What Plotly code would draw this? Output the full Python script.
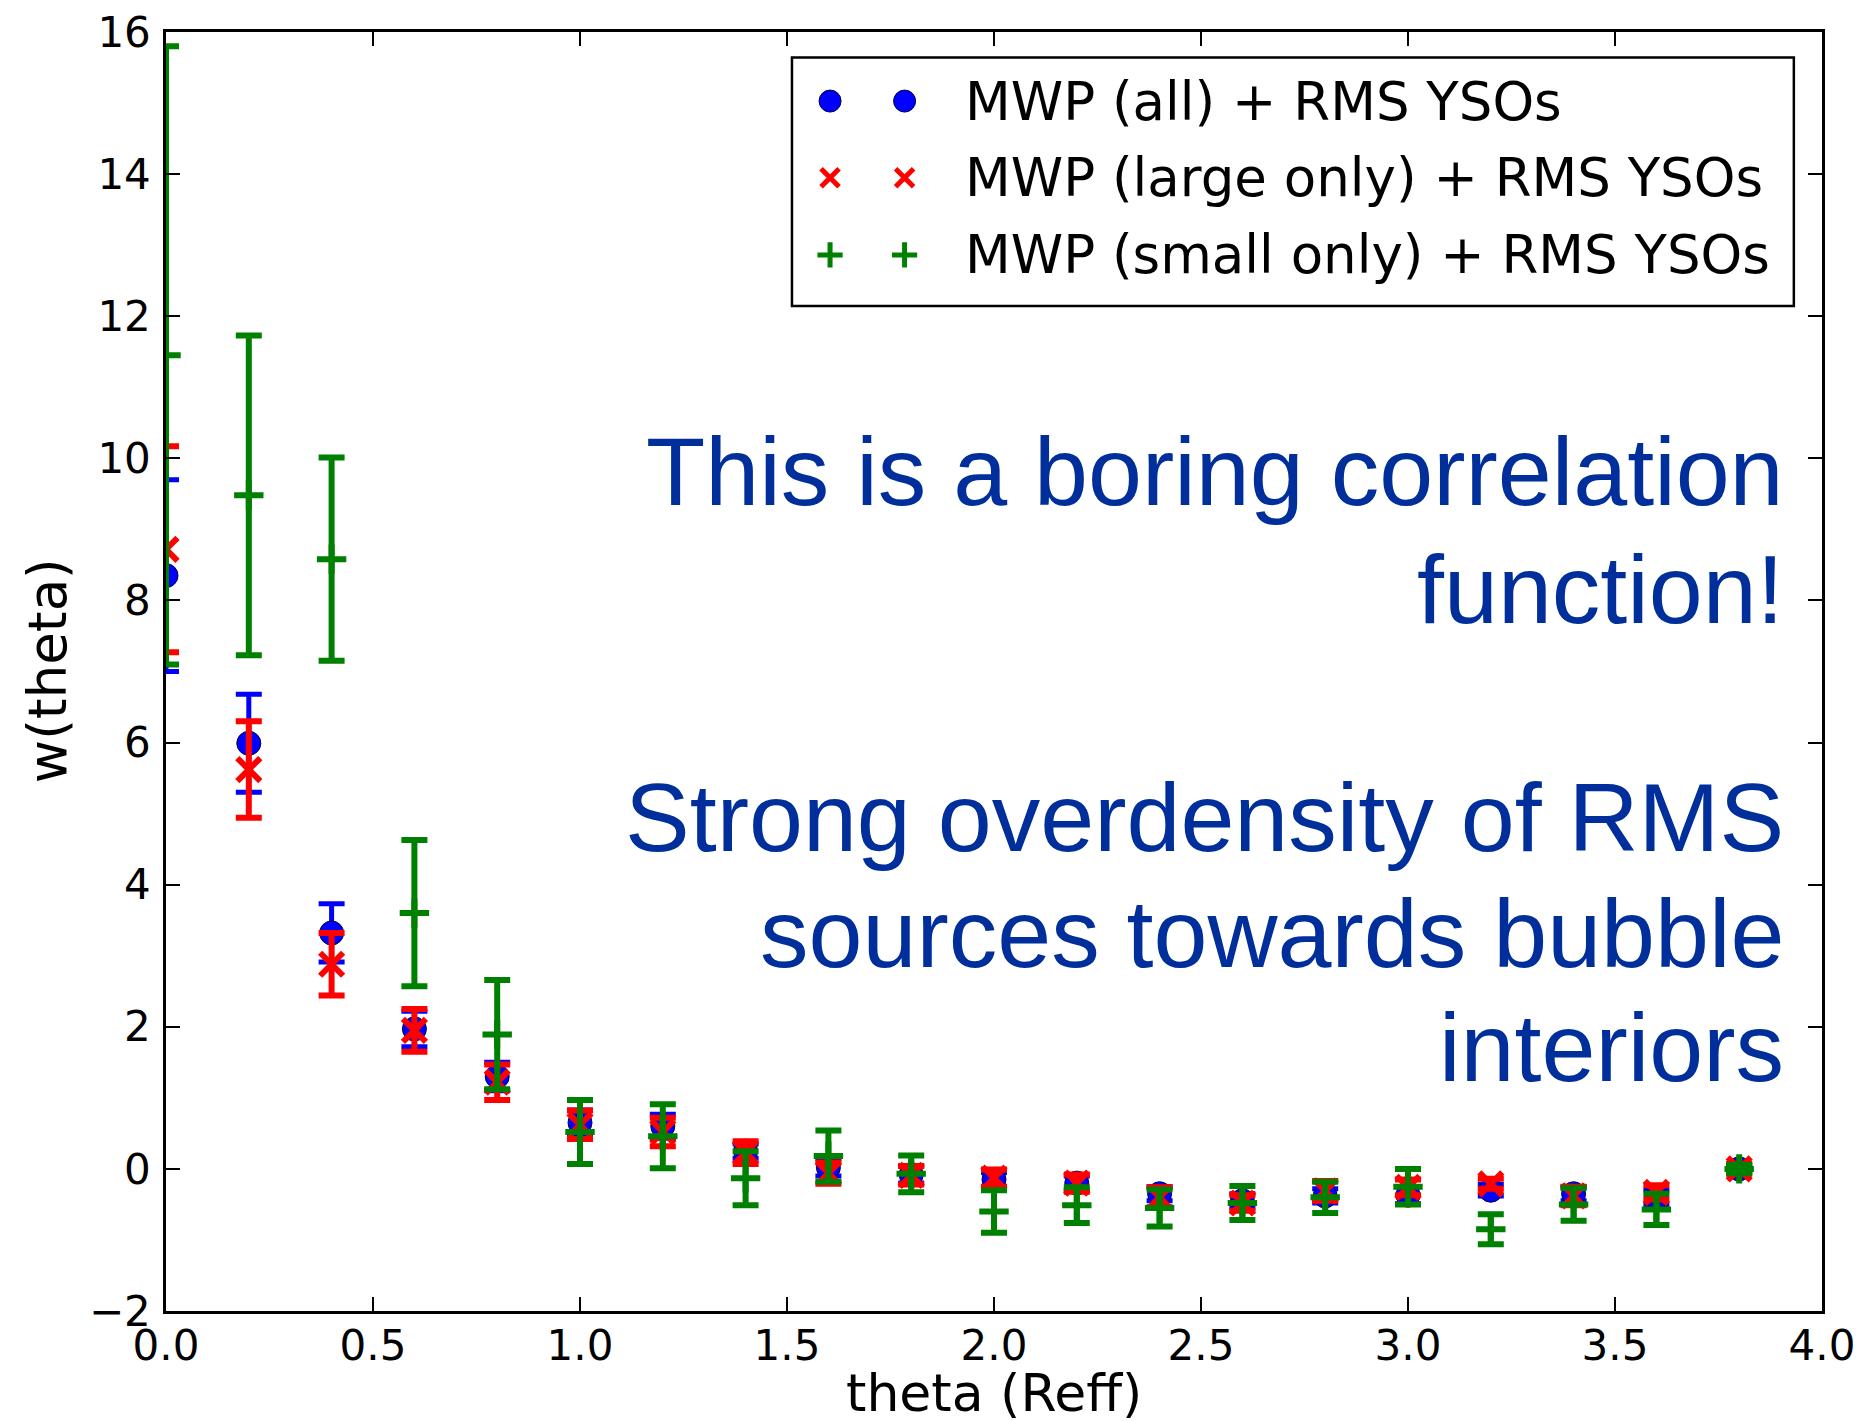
import plotly.graph_objects as go

# Angular separation bins (in units of effective bubble radius)
theta = [0.0, 0.2, 0.4, 0.6, 0.8, 1.0, 1.2, 1.4, 1.6, 1.8,
         2.0, 2.2, 2.4, 2.6, 2.8, 3.0, 3.2, 3.4, 3.6, 3.8]

# MWP (all) + RMS YSOs
w_all = [8.35, 5.99, 3.32, 1.97, 1.30, 0.65, 0.60, 0.25, 0.02, -0.08,
         -0.15, -0.20, -0.35, -0.45, -0.38, -0.37, -0.30, -0.35, -0.40, 0.0]
err_all = [1.35, 0.69, 0.41, 0.25, 0.20, 0.18, 0.17, 0.10, 0.12, 0.12,
           0.10, 0.10, 0.10, 0.10, 0.10, 0.12, 0.08, 0.10, 0.10, 0.05]

# MWP (large only) + RMS YSOs
w_large = [8.72, 5.62, 2.88, 1.95, 1.22, 0.62, 0.52, 0.23, -0.06, -0.09,
           -0.13, -0.20, -0.40, -0.48, -0.31, -0.26, -0.21, -0.38, -0.33, 0.0]
err_large = [1.45, 0.68, 0.44, 0.30, 0.25, 0.20, 0.20, 0.16, 0.15, 0.13,
             0.12, 0.12, 0.14, 0.11, 0.14, 0.11, 0.07, 0.13, 0.10, 0.07]

# MWP (small only) + RMS YSOs
w_small = [11.45, 9.48, 8.58, 3.60, 1.89, 0.52, 0.46, -0.13, 0.18, -0.07,
           -0.60, -0.51, -0.55, -0.48, -0.40, -0.25, -0.85, -0.50, -0.57, 0.0]
err_small = [4.35, 2.25, 1.43, 1.03, 0.77, 0.45, 0.45, 0.38, 0.36, 0.26,
             0.30, 0.25, 0.26, 0.24, 0.22, 0.25, 0.21, 0.23, 0.22, 0.06]

legend_labels = ["MWP (all) + RMS YSOs",
                 "MWP (large only) + RMS YSOs",
                 "MWP (small only) + RMS YSOs"]

x_ticks = [0.0, 0.5, 1.0, 1.5, 2.0, 2.5, 3.0, 3.5, 4.0]
y_ticks = [-2, 0, 2, 4, 6, 8, 10, 12, 14, 16]

x_title = "theta (Reff)"
y_title = "w(theta)"

note_lines = ["This is a boring correlation", "function!",
              "Strong overdensity of RMS", "sources towards bubble", "interiors"]

BLUE, RED, GREEN = "#0000ff", "#ff0000", "#008000"
NOTE_COLOR = "#002e9b"
MPL_FONT = "DejaVu Sans"

series = [
    dict(y=w_all, e=err_all, color=BLUE, symbol="circle", size=24, lw=1, lc="#000040", eth=5),
    dict(y=w_large, e=err_large, color=RED, symbol="x-thin", size=23, lw=6, lc=RED, eth=6),
    dict(y=w_small, e=err_small, color=GREEN, symbol="cross-thin", size=21, lw=6, lc=GREEN, eth=6),
]

fig = go.Figure()
for s, name in zip(series, legend_labels):
    fig.add_trace(go.Scatter(
        x=theta, y=s["y"], mode="markers", name=name, showlegend=False,
        marker=dict(symbol=s["symbol"], size=s["size"], color=s["color"],
                    line=dict(width=s["lw"], color=s["lc"])),
        error_y=dict(type="data", array=s["e"], visible=True,
                     color=s["color"], thickness=s["eth"], width=13),
        cliponaxis=True,
    ))

# Legend glyphs: two sample markers per entry, drawn on an overlay axis
leg_x = [0.401, 0.446]
leg_y = [0.946, 0.886, 0.8257]
leg_sizes = [22, 18, 18]
for s, ly, ms in zip(series, leg_y, leg_sizes):
    fig.add_trace(go.Scatter(
        x=leg_x, y=[ly, ly], mode="markers", showlegend=False, hoverinfo="skip",
        xaxis="x2", yaxis="y2",
        marker=dict(symbol=s["symbol"], size=ms, color=s["color"],
                    line=dict(width=s["lw"] - 1 if s["lw"] > 1 else 1, color=s["lc"])),
    ))

annotations = []
for label, ly in zip(legend_labels, leg_y):
    annotations.append(dict(
        x=0.4813, y=ly, xref="paper", yref="paper", xanchor="left", yanchor="middle",
        text=label, showarrow=False, font=dict(family=MPL_FONT, size=53, color="black")))

note_y = [0.656, 0.5645, 0.3855, 0.2955, 0.2064]
for line, ny in zip(note_lines, note_y):
    annotations.append(dict(
        x=0.978, y=ny, xref="paper", yref="paper", xanchor="right", yanchor="middle",
        text=line, showarrow=False,
        font=dict(family="Liberation Sans, Arial, sans-serif", size=97, color=NOTE_COLOR)))

# Axis titles
annotations.append(dict(
    x=0.5, y=-0.0645, xref="paper", yref="paper", xanchor="center", yanchor="middle",
    text=x_title, showarrow=False, font=dict(family=MPL_FONT, size=52, color="black")))
annotations.append(dict(
    x=-0.0719, y=0.501, xref="paper", yref="paper", xanchor="center", yanchor="middle",
    text=y_title, textangle=-90, showarrow=False,
    font=dict(family=MPL_FONT, size=53, color="black")))

axis_common = dict(
    showline=True, linecolor="black", linewidth=2.5, mirror="ticks",
    ticks="inside", ticklen=14, tickwidth=1.5, tickcolor="black",
    showgrid=False, zeroline=False, automargin=False,
    tickfont=dict(family=MPL_FONT, size=42, color="black"),
)

fig.update_layout(
    width=1859, height=1421,
    margin=dict(l=166, r=37, t=32, b=110),
    paper_bgcolor="white", plot_bgcolor="white",
    xaxis=dict(range=[0, 4], tickvals=x_ticks, ticktext=[f"{v:.1f}" for v in x_ticks],
               ticklabelstandoff=-4, **axis_common),
    yaxis=dict(range=[-2, 16], tickvals=y_ticks,
               ticklabelstandoff=4, **axis_common),
    xaxis2=dict(range=[0, 1], overlaying="x", visible=False, fixedrange=True),
    yaxis2=dict(range=[0, 1], overlaying="y", visible=False, fixedrange=True),
    annotations=annotations,
    shapes=[dict(type="rect", xref="paper", yref="paper",
                 x0=0.378, x1=0.983, y0=0.7858, y1=0.980,
                 line=dict(color="black", width=2.5), fillcolor="white", layer="below")],
    showlegend=False,
)

fig.write_html("out.html")
